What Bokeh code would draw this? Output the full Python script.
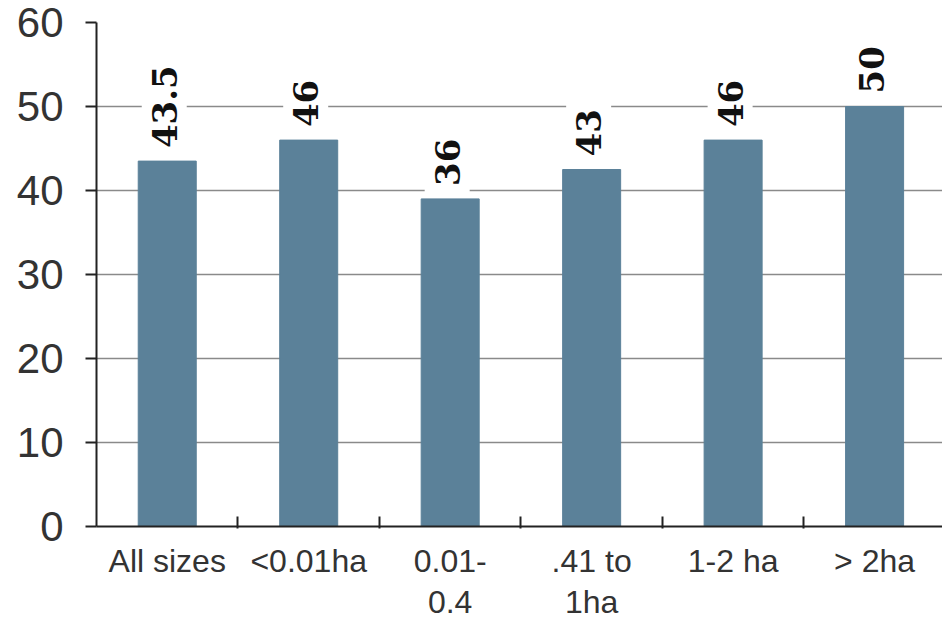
import numpy as np
from bokeh.plotting import figure
from bokeh.models import Range1d, FixedTicker, ColumnDataSource
from bokeh.core.properties import value
from bokeh.embed import file_html
from bokeh.resources import INLINE

categories = ["All sizes", "<0.01ha", "0.01-\n0.4", ".41 to\n1ha", "1-2 ha", "> 2ha"]
values = [43.5, 46, 39, 42.5, 46, 50]
value_labels = ["43.5", "46", "36", "43", "46", "50"]
y_ticks = [0, 10, 20, 30, 40, 50, 60]

n = len(categories)
centers = np.arange(n) + 0.5
boundaries = list(np.arange(1, n))

src = ColumnDataSource(dict(x=centers, top=values, lab=value_labels))

p = figure(width=942, height=622, output_backend="svg", toolbar_location=None,
           x_range=Range1d(0, 5.98), y_range=Range1d(0, 60),
           min_border_left=96, min_border_right=0, min_border_top=22, min_border_bottom=96)
p.outline_line_color = None
p.background_fill_color = "white"

p.vbar(x="x", top="top", width=0.41, bottom=0, source=src, color="#5b8199")

p.text(x="x", y="top", text="lab", source=src, angle=np.pi / 2,
       text_align="left", text_baseline="middle", y_offset=-3, x_offset=-3,
       text_font=value("DejaVu Serif"), text_font_style="bold", text_font_size="34px",
       text_color="#111111", background_fill_color="white", padding=10)

# y axis
p.yaxis.ticker = FixedTicker(ticks=y_ticks)
p.yaxis.major_tick_out = 11
p.yaxis.major_tick_in = 0
p.yaxis.minor_tick_line_color = None
p.yaxis.axis_line_color = "#222222"
p.yaxis.axis_line_width = 2
p.yaxis.major_tick_line_color = "#222222"
p.yaxis.major_tick_line_width = 2
p.yaxis.major_label_text_font = "Liberation Sans"
p.yaxis.major_label_text_font_size = "42px"
p.yaxis.major_label_text_color = "#333333"
p.yaxis.major_label_standoff = 22

# x axis
p.xaxis.ticker = FixedTicker(ticks=list(centers), minor_ticks=boundaries)
p.xaxis.major_label_overrides = {float(c): lab for c, lab in zip(centers, categories)}
p.xaxis.major_tick_line_color = None
p.xaxis.major_tick_out = 0
p.xaxis.major_tick_in = 0
p.xaxis.minor_tick_line_color = "#222222"
p.xaxis.minor_tick_line_width = 2
p.xaxis.minor_tick_in = 10
p.xaxis.minor_tick_out = 2
p.xaxis.axis_line_color = "#222222"
p.xaxis.axis_line_width = 2
p.xaxis.major_label_text_font = "Liberation Sans"
p.xaxis.major_label_text_font_size = "32px"
p.xaxis.major_label_text_color = "#333333"
p.xaxis.major_label_text_line_height = 1.15
p.xaxis.major_label_standoff = 14

p.xgrid.grid_line_color = None
p.ygrid.ticker = FixedTicker(ticks=y_ticks[1:])
p.ygrid.grid_line_color = "#8a8a8a"
p.ygrid.grid_line_width = 1.5

open("out.html", "w").write(file_html(p, INLINE))
